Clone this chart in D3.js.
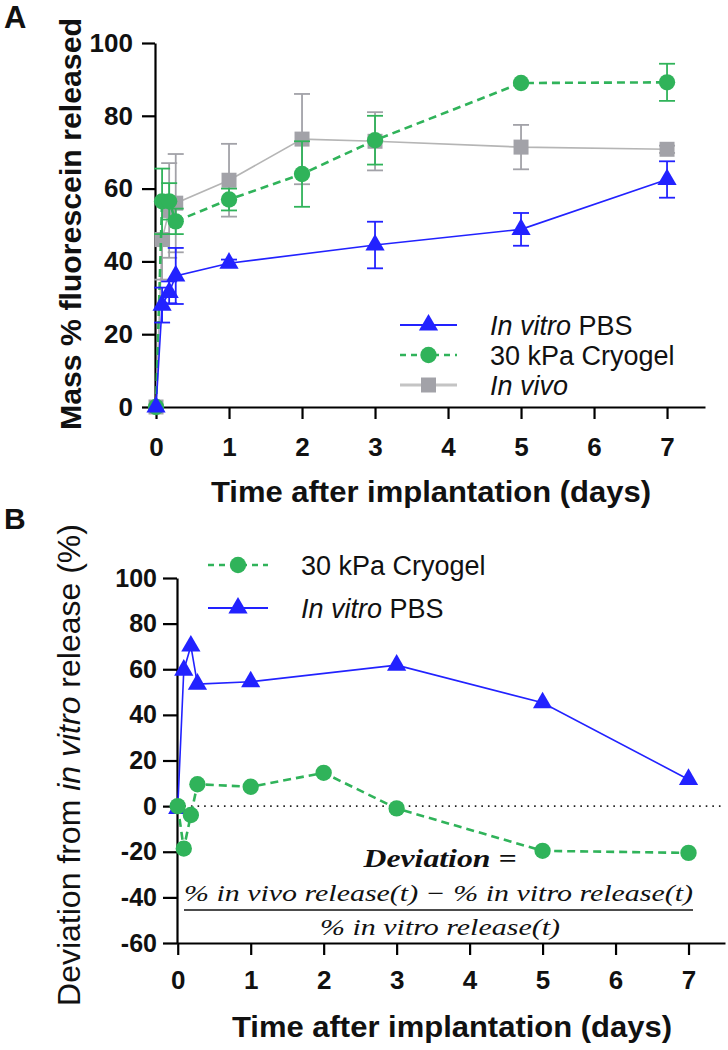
<!DOCTYPE html>
<html><head><meta charset="utf-8">
<script src="https://cdn.jsdelivr.net/npm/d3@7"></script>
<style>body{margin:0;background:#fff}svg{display:block}</style>
</head><body>
<svg id="c" width="728" height="1050"></svg>
<script>
// ---------- DATA ----------
const timesA = [0, 0.083, 0.18, 0.27, 1, 2, 3, 5, 7];
// Panel A: mass % fluorescein released
const pbsTimes = [0, 0.083, 0.18, 0.27, 1, 3, 5, 7];
const pbsMean  = [0, 28, 31.5, 36, 39.5, 44.5, 48.8, 62.5];
const pbsSD    = [0, 4.8, 3, 7.7, 1, 6.4, 4.5, 5];
const cryoMean = [0, 56.5, 56.5, 51, 57, 64, 73.3, 89, 89.2];
const cryoSD   = [0, 9, 5, 3.5, 3, 9, 6.7, 0.5, 5.1];
const vivoMean = [0, 46, 54, 56, 62.3, 73.6, 73, 71.4, 70.8];
const vivoSD   = [0, 11, 13, 13.5, 10, 12.4, 8, 6.1, 1];
// Panel B: deviation from in vitro release (%)
const devCryoTimes = [0, 0.083, 0.18, 0.27, 1, 2, 3, 5, 7];
const devCryo      = [0, -18.6, -3.9, 9.6, 8.5, 14.6, -1, -19.6, -20.5];
const devPbsTimes  = [0, 0.083, 0.18, 0.27, 1, 3, 5, 7];
const devPbs       = [-1, 59.6, 70.2, 53.5, 54.5, 61.8, 45.3, 11.7];
// Ticks
const xTicks = [0, 1, 2, 3, 4, 5, 6, 7];
const yTicksA = [0, 20, 40, 60, 80, 100];
const yTicksB = [-60, -40, -20, 0, 20, 40, 60, 80, 100];

// ---------- STYLE ----------
const BLUE = "#2222ff", GREEN = "#30b35a", GREY = "#a2a2a8", GREYLINE = "#b5b5b5";
const SANS = "'Liberation Sans', Arial, sans-serif";
const SERIF = "'Liberation Serif', 'DejaVu Serif', serif";

const svg = d3.select("#c");

function zip(t, m, s) { return t.map((d, i) => ({t: d, v: m[i], s: s ? s[i] : 0})); }

function styleAxis(g, fs) {
  g.selectAll("path.domain").attr("stroke", "#000").attr("stroke-width", 2.2);
  g.selectAll(".tick line").attr("stroke", "#000").attr("stroke-width", 2.2);
  g.selectAll(".tick text").attr("font-family", SANS).attr("font-weight", "bold")
    .attr("font-size", fs).attr("fill", "#111");
}

function drawSeries(g, x, y, data, color, lineColor, dash, lw, sym, size) {
  const line = d3.line().x(d => x(d.t)).y(d => y(d.v));
  g.append("path").datum(data).attr("d", line).attr("fill", "none")
    .attr("stroke", lineColor).attr("stroke-width", lw)
    .attr("stroke-dasharray", dash || null);
  const eb = g.append("g").attr("stroke", color).attr("stroke-width", 1.8);
  data.filter(d => d.s > 0.6).forEach(d => {
    const cx = x(d.t), y1 = y(d.v - d.s), y2 = y(d.v + d.s);
    eb.append("line").attr("x1", cx).attr("x2", cx).attr("y1", y1).attr("y2", y2);
    eb.append("line").attr("x1", cx - 8).attr("x2", cx + 8).attr("y1", y1).attr("y2", y1);
    eb.append("line").attr("x1", cx - 8).attr("x2", cx + 8).attr("y1", y2).attr("y2", y2);
  });
  g.selectAll(null).data(data).enter().append("path")
    .attr("d", d3.symbol().type(sym).size(size))
    .attr("transform", d => `translate(${x(d.t)},${y(d.v)})`)
    .attr("fill", color);
}

function legendRow(g, x0, x1, y, color, lineColor, dash, lw, sym, size, parts, fs) {
  g.append("line").attr("x1", x0).attr("x2", x1).attr("y1", y).attr("y2", y)
    .attr("stroke", lineColor).attr("stroke-width", lw).attr("stroke-dasharray", dash || null);
  g.append("path").attr("d", d3.symbol().type(sym).size(size))
    .attr("transform", `translate(${(x0 + x1) / 2},${y})`).attr("fill", color);
  const t = g.append("text").attr("x", x1 + 33).attr("y", y).attr("dy", "0.36em")
    .attr("font-family", SANS).attr("font-size", fs).attr("fill", "#111");
  parts.forEach(p => t.append("tspan").attr("font-style", p[1] ? "italic" : "normal").text(p[0]));
}

const fmt = d => String(d);

// ---------- PANEL A ----------
const xA = d3.scaleLinear().domain([-0.014, 7.52]).range([155, 705]);
const yA = d3.scaleLinear().domain([0, 100]).range([407, 43]);
const gA = svg.append("g");

gA.append("g").attr("transform", "translate(0,407)")
  .call(d3.axisBottom(xA).tickValues(xTicks).tickFormat(fmt).tickSizeInner(12).tickSizeOuter(0).tickPadding(19))
  .call(g => styleAxis(g, 26));
gA.append("g").attr("transform", "translate(155,0)")
  .call(d3.axisLeft(yA).tickValues(yTicksA).tickFormat(fmt).tickSizeInner(13).tickSizeOuter(0).tickPadding(9))
  .call(g => styleAxis(g, 26));

drawSeries(gA, xA, yA, zip(timesA, vivoMean, vivoSD), GREY, GREYLINE, null, 1.6, d3.symbolSquare, 225);
drawSeries(gA, xA, yA, zip(timesA, cryoMean, cryoSD), GREEN, GREEN, "8,5", 2.6, d3.symbolCircle, 210);
drawSeries(gA, xA, yA, zip(pbsTimes, pbsMean, pbsSD), BLUE, BLUE, null, 1.6, d3.symbolTriangle, 160);

gA.append("text").attr("x", 4).attr("y", 28).attr("font-family", SANS).attr("font-weight", "bold")
  .attr("font-size", 31).attr("fill", "#111").text("A");
gA.append("text").attr("x", 431).attr("y", 502).attr("text-anchor", "middle")
  .attr("font-family", SANS).attr("font-weight", "bold").attr("font-size", 29).attr("fill", "#111")
  .attr("textLength", 440).attr("lengthAdjust", "spacingAndGlyphs")
  .text("Time after implantation (days)");
gA.append("text").attr("transform", "translate(81,224) rotate(-90)").attr("text-anchor", "middle")
  .attr("font-family", SANS).attr("font-weight", "bold").attr("font-size", 30).attr("fill", "#111")
  .attr("textLength", 412).attr("lengthAdjust", "spacingAndGlyphs")
  .text("Mass % fluorescein released");

const legA = gA.append("g");
legendRow(legA, 400, 457, 325, BLUE, BLUE, null, 2, d3.symbolTriangle, 160, [["In vitro", 1], [" PBS", 0]], 27);
legendRow(legA, 400, 457, 355, GREEN, GREEN, "6,5", 2.6, d3.symbolCircle, 210, [["30 kPa Cryogel", 0]], 27);
legendRow(legA, 400, 457, 385, GREY, "#c4c4c4", null, 3, d3.symbolSquare, 225, [["In vivo", 1]], 27);

// ---------- PANEL B ----------
const xB = d3.scaleLinear().domain([-0.01, 7.5]).range([177, 725]);
const yB = d3.scaleLinear().domain([-60, 100]).range([943, 578]);
const gB = svg.append("g");

gB.append("line").attr("x1", xB(0)).attr("x2", 725).attr("y1", yB(0)).attr("y2", yB(0))
  .attr("stroke", "#222").attr("stroke-width", 1.6).attr("stroke-dasharray", "1.6,5");

gB.append("g").attr("transform", "translate(0,943)")
  .call(d3.axisBottom(xB).tickValues(xTicks).tickFormat(fmt).tickSizeInner(12).tickSizeOuter(0).tickPadding(16))
  .call(g => styleAxis(g, 26));
gB.append("g").attr("transform", "translate(177,0)")
  .call(d3.axisLeft(yB).tickValues(yTicksB).tickFormat(fmt).tickSizeInner(14).tickSizeOuter(0).tickPadding(6))
  .call(g => styleAxis(g, 25));

drawSeries(gB, xB, yB, zip(devPbsTimes, devPbs), BLUE, BLUE, null, 1.6, d3.symbolTriangle, 160);
drawSeries(gB, xB, yB, zip(devCryoTimes, devCryo), GREEN, GREEN, "8,5", 2.6, d3.symbolCircle, 210);

gB.append("text").attr("x", 4).attr("y", 529).attr("font-family", SANS).attr("font-weight", "bold")
  .attr("font-size", 30).attr("fill", "#111").text("B");
gB.append("text").attr("x", 452).attr("y", 1037).attr("text-anchor", "middle")
  .attr("font-family", SANS).attr("font-weight", "bold").attr("font-size", 29).attr("fill", "#111")
  .attr("textLength", 440).attr("lengthAdjust", "spacingAndGlyphs")
  .text("Time after implantation (days)");
const yt = gB.append("text").attr("transform", "translate(80,765) rotate(-90)").attr("text-anchor", "middle")
  .attr("font-family", SANS).attr("font-size", 32).attr("fill", "#111");
yt.append("tspan").text("Deviation from ");
yt.append("tspan").attr("font-style", "italic").text("in vitro");
yt.append("tspan").text(" release (%)");

const legB = gB.append("g");
legendRow(legB, 208, 268, 565, GREEN, GREEN, "6,5", 2.6, d3.symbolCircle, 210, [["30 kPa Cryogel", 0]], 27);
legendRow(legB, 208, 268, 608, BLUE, BLUE, null, 2, d3.symbolTriangle, 160, [["In vitro", 1], [" PBS", 0]], 27);

// formula
const fx = 440;
gB.append("text").attr("x", fx).attr("y", 867).attr("text-anchor", "middle")
  .attr("font-family", SERIF).attr("font-style", "italic").attr("font-weight", "bold")
  .attr("font-size", 25).attr("fill", "#111")
  .attr("textLength", 153).attr("lengthAdjust", "spacingAndGlyphs").text("Deviation =");
gB.append("text").attr("x", 438.5).attr("y", 901).attr("text-anchor", "middle")
  .attr("font-family", SERIF).attr("font-style", "italic").attr("font-size", 23).attr("fill", "#111")
  .attr("textLength", 509).attr("lengthAdjust", "spacingAndGlyphs")
  .text("% in vivo release(t) \u2212 % in vitro release(t)");
gB.append("line").attr("x1", 184).attr("x2", 693).attr("y1", 910).attr("y2", 910)
  .attr("stroke", "#111").attr("stroke-width", 1.5);
gB.append("text").attr("x", fx).attr("y", 935).attr("text-anchor", "middle")
  .attr("font-family", SERIF).attr("font-style", "italic").attr("font-size", 23).attr("fill", "#111")
  .attr("textLength", 240).attr("lengthAdjust", "spacingAndGlyphs")
  .text("% in vitro release(t)");
</script>
</body></html>
